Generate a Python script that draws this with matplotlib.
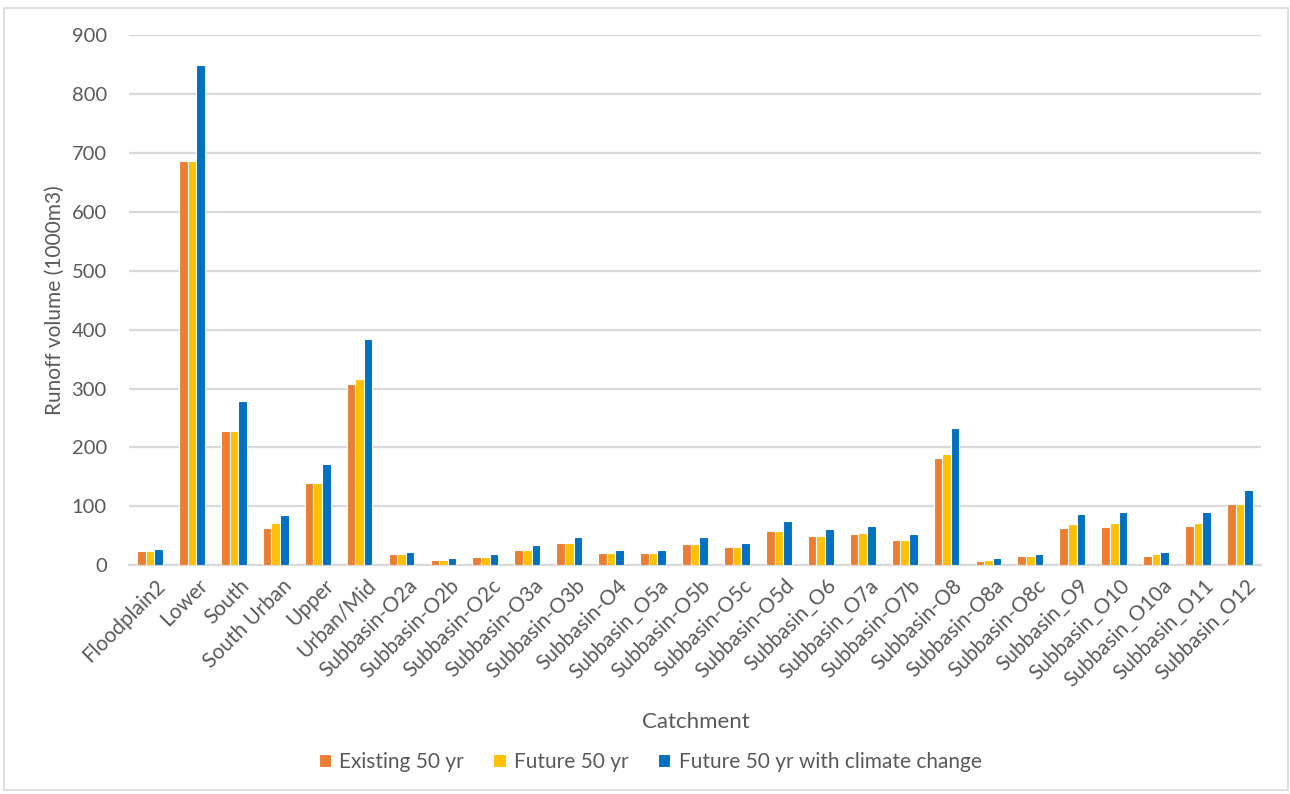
import matplotlib
matplotlib.use("Agg")
import matplotlib.pyplot as plt
from matplotlib.patches import Rectangle
from matplotlib.transforms import ScaledTranslation
import numpy as np

categories = [
    "Floodplain2", "Lower", "South", "South Urban", "Upper", "Urban/Mid",
    "Subbasin-O2a", "Subbasin-O2b", "Subbasin-O2c", "Subbasin-O3a", "Subbasin-O3b",
    "Subbasin-O4", "Subbasin_O5a", "Subbasin-O5b", "Subbasin-O5c", "Subbasin-O5d",
    "Subbasin_O6", "Subbasin_O7a", "Subbasin-O7b", "Subbasin-O8", "Subbasin-O8a",
    "Subbasin-O8c", "Subbasin_O9", "Subbasin_O10", "Subbasin_O10a", "Subbasin_O11",
    "Subbasin_O12",
]
existing_50yr = [24, 687, 227, 63, 139, 308, 18, 9, 14, 26, 38, 20, 20, 36, 30, 57,
                 49, 53, 42, 182, 7, 16, 63, 65, 16, 67, 104]
future_50yr = [24, 687, 227, 71, 139, 316, 18, 9, 14, 26, 38, 20, 20, 36, 30, 57,
               49, 55, 42, 188, 9, 16, 69, 71, 18, 71, 104]
future_50yr_cc = [28, 849, 278, 85, 172, 384, 22, 12, 18, 34, 48, 26, 26, 47, 38, 74,
                  62, 67, 53, 233, 12, 18, 86, 90, 22, 90, 128]
series_names = ["Existing 50 yr", "Future 50 yr", "Future 50 yr with climate change"]
series_colors = ["#ED7D31", "#FFC000", "#0070C0"]
y_ticks = [0, 100, 200, 300, 400, 500, 600, 700, 800, 900]

plt.rcParams["font.family"] = ["Lato", "DejaVu Sans"]
text_color = "#595959"
grid_color = "#D9D9D9"

fig = plt.figure(figsize=(12.9, 7.94), dpi=100)
ax = fig.add_axes([0.1, 0.2884, 0.8775, 0.6669])

x = np.arange(len(categories))
bar_w = 0.205
for i, (vals, name, col) in enumerate(zip([existing_50yr, future_50yr, future_50yr_cc],
                                           series_names, series_colors)):
    ax.bar(x + (i - 1) * bar_w, vals, width=bar_w, color=col, label=name,
           edgecolor="white", linewidth=0.8, zorder=3)

ax.set_xlim(-0.5, len(categories) - 0.5)
ax.set_ylim(0, 900)
ax.set_yticks(y_ticks)
ax.set_yticklabels([str(v) for v in y_ticks], fontsize=14.5, color=text_color)
ax.yaxis.grid(True, color=grid_color, linewidth=1.6, zorder=0)
ax.set_axisbelow(True)
for side in ["top", "right", "left"]:
    ax.spines[side].set_visible(False)
ax.spines["bottom"].set_color(grid_color)
ax.spines["bottom"].set_linewidth(1.6)
ax.tick_params(axis="both", length=0)
ax.tick_params(axis="y", pad=16)

ax.set_xticks(x)
labels = ax.set_xticklabels(categories, rotation=45, ha="right", va="top",
                            rotation_mode="anchor", fontsize=15, color=text_color)
offset = ScaledTranslation(4 / 72, -4 / 72, fig.dpi_scale_trans)
for lab in labels:
    lab.set_transform(lab.get_transform() + offset)

ax.set_ylabel("Runoff volume (1000m3)", fontsize=15, color=text_color)
ax.yaxis.set_label_coords(-0.057, 0.5)
fig.text(0.5395, 1 - 722 / 794, "Catchment", fontsize=16, color=text_color,
         ha="center", va="center")

handles, lbls = ax.get_legend_handles_labels()
fig.legend(handles, lbls, loc="center", bbox_to_anchor=(0.504, 1 - 762 / 794), ncol=3,
           frameon=False, fontsize=15, labelcolor=text_color, handlelength=0.6,
           handleheight=0.6, handletextpad=0.4, columnspacing=1.4)

fig.patches.append(Rectangle((4 / 1290, 1 - 790 / 794), 1284 / 1290, 782 / 794,
                             transform=fig.transFigure, fill=False,
                             edgecolor="#D9D9D9", linewidth=1.2))

fig.savefig("out.png", dpi=100, facecolor="white")
